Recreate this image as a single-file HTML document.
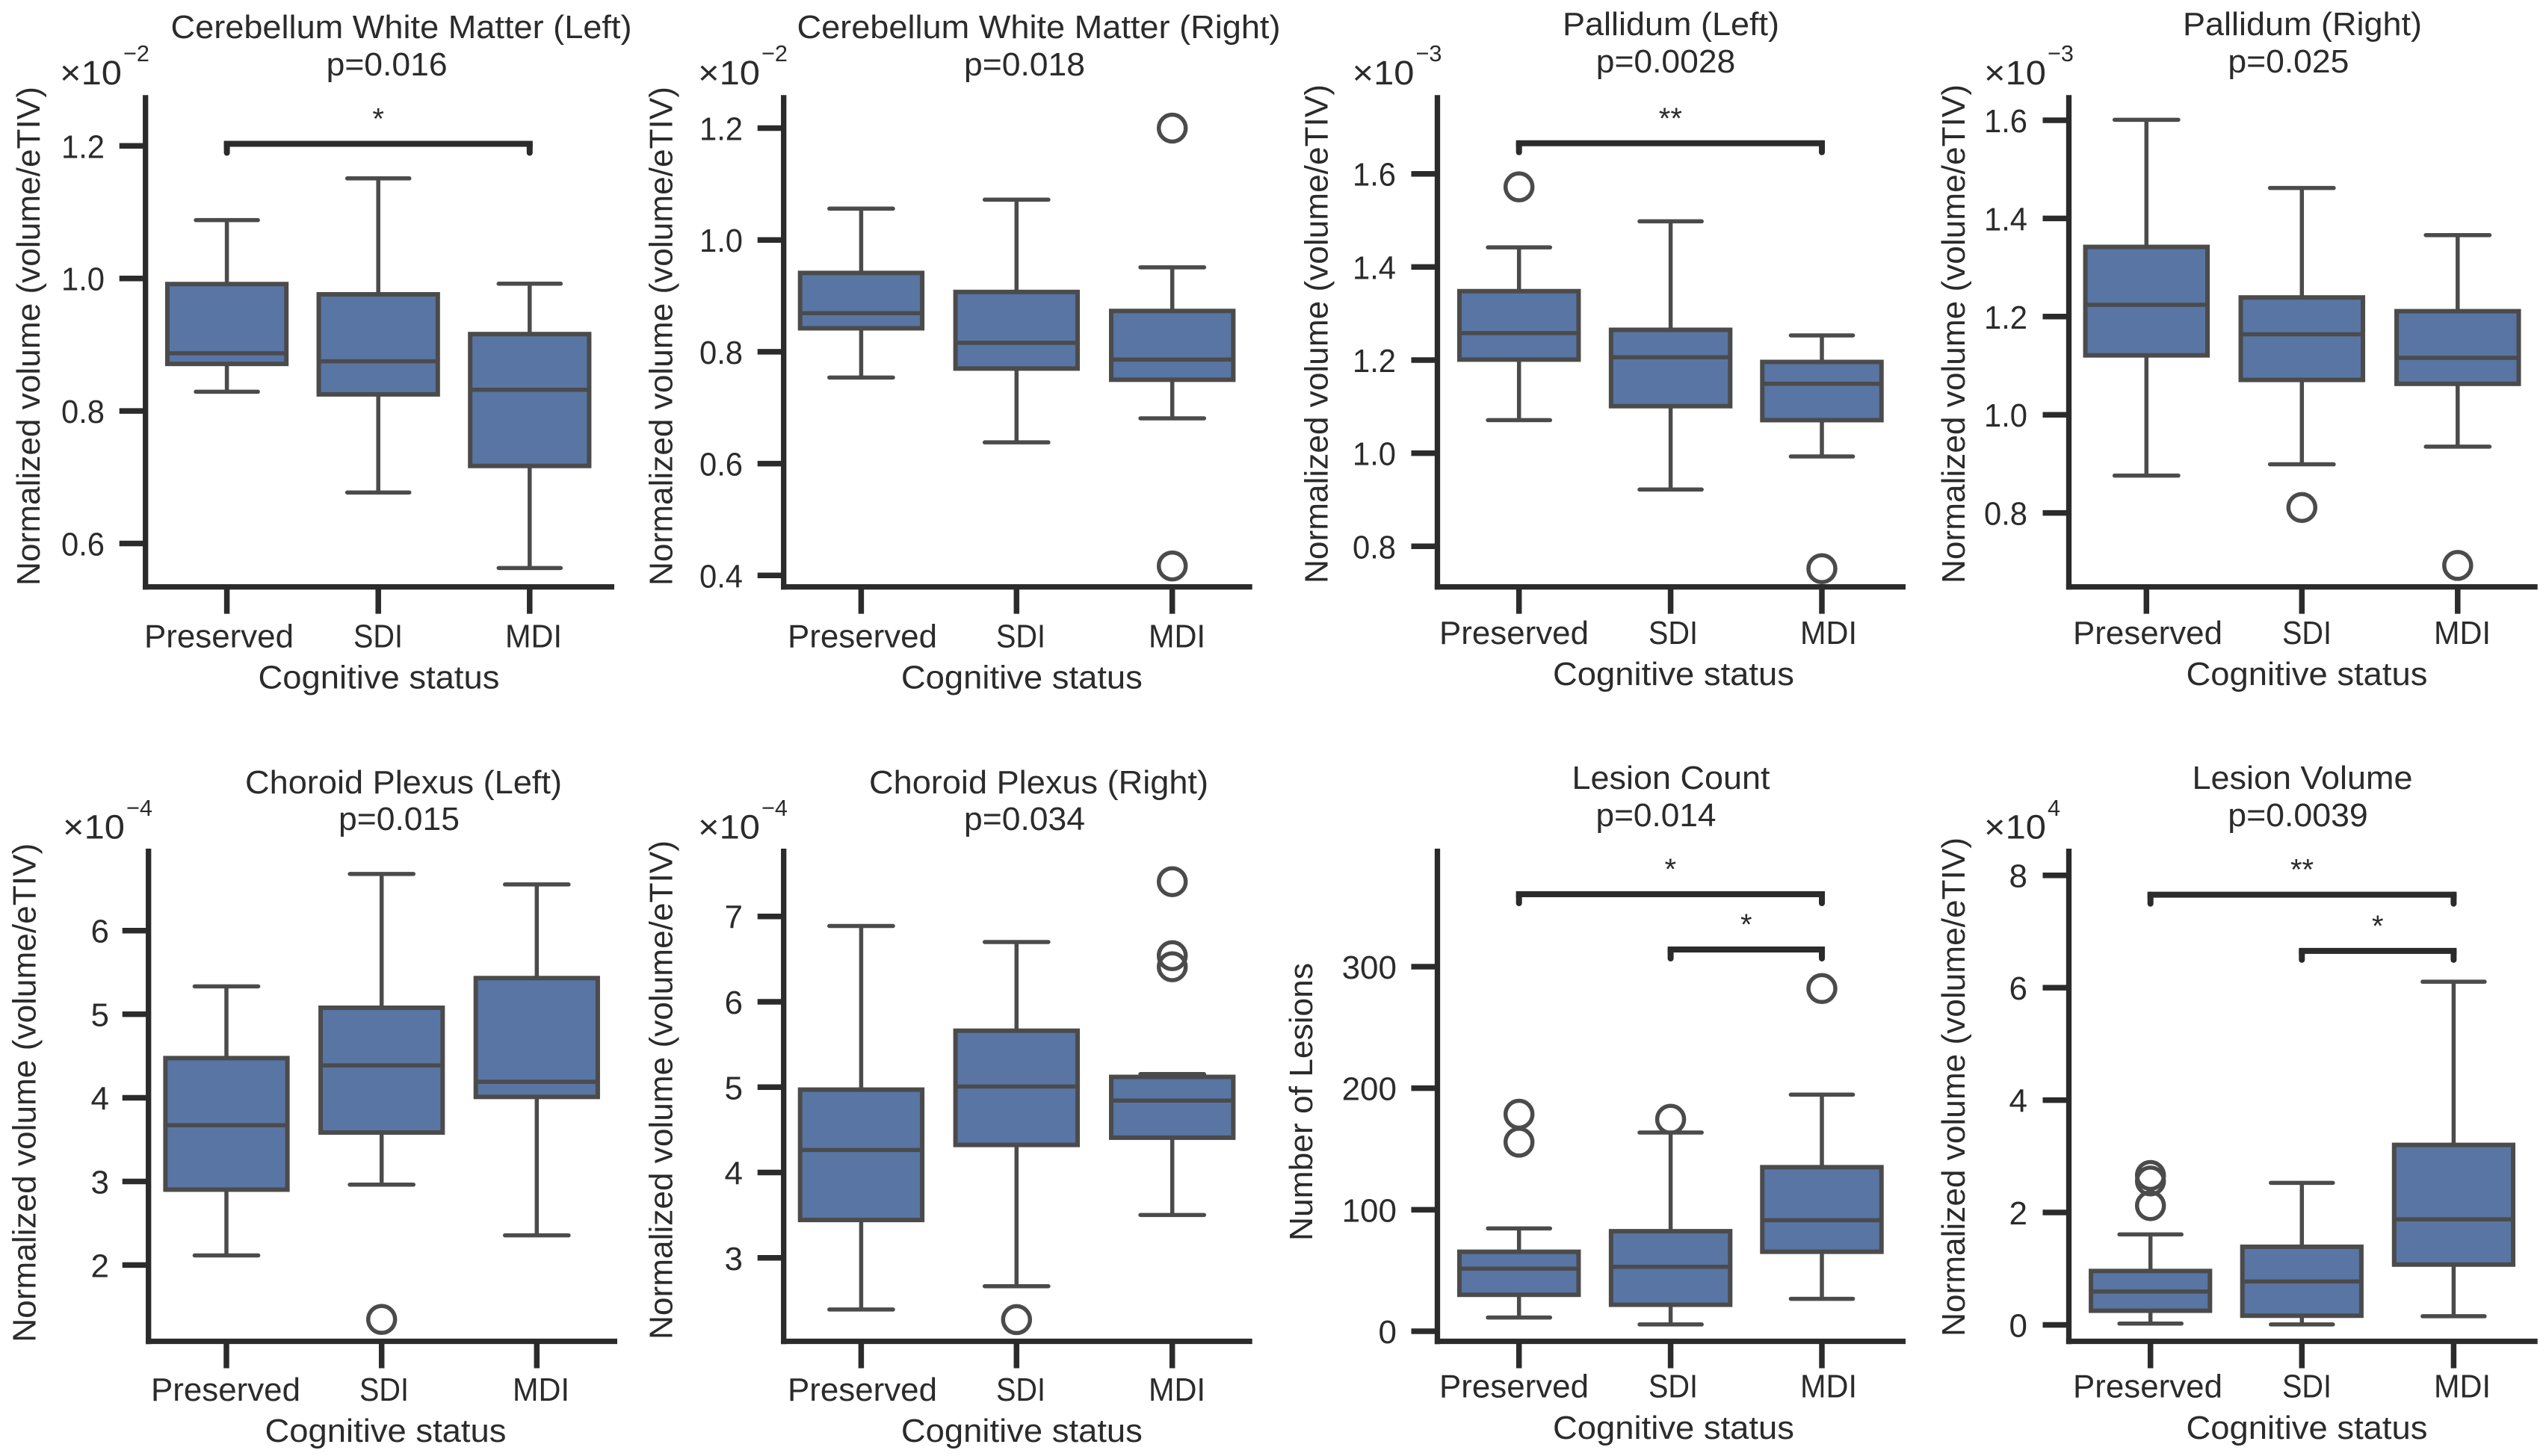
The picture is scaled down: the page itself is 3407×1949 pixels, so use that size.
<!DOCTYPE html>
<html lang="en">
<head>
<meta charset="utf-8">
<title>Brain volume by cognitive status</title>
<style>
  html, body { margin: 0; padding: 0; background: #ffffff; }
  svg { display: block; }
  text { font-family: "Liberation Sans", sans-serif; fill: #2b2b2b; }
</style>
</head>
<body>
<svg id="figure" width="3407" height="1949" viewBox="0 0 3407 1949" xmlns="http://www.w3.org/2000/svg"></svg>
<script>
const categories = ['Preserved', 'SDI', 'MDI'];
const xAxisTitle = 'Cognitive status';
const normalizedAxisTitle = 'Normalized volume (volume/eTIV)';
const lesionAxisTitle = 'Number of Lesions';

// Cerebellum White Matter (Left)
const cwmLeftTicks = [1.2, 1.0, 0.8, 0.6];
const cwmLeftTickLabels = ['1.2', '1.0', '0.8', '0.6'];
const cwmLeftHigh = [1.088, 1.151, 0.992];
const cwmLeftQ3 = [0.9915, 0.976, 0.916];
const cwmLeftMedian = [0.887, 0.875, 0.832];
const cwmLeftQ1 = [0.871, 0.825, 0.717];
const cwmLeftLow = [0.829, 0.677, 0.563];
const cwmLeftOutliers = [[], [], []];
const cwmLeftBrackets = [{ from: 0, to: 2, value: 1.202, stars: '*' }];

// Cerebellum White Matter (Right)
const cwmRightTicks = [1.2, 1.0, 0.8, 0.6, 0.4];
const cwmRightTickLabels = ['1.2', '1.0', '0.8', '0.6', '0.4'];
const cwmRightHigh = [1.056, 1.072, 0.951];
const cwmRightQ3 = [0.941, 0.907, 0.873];
const cwmRightMedian = [0.869, 0.816, 0.786];
const cwmRightQ1 = [0.842, 0.770, 0.750];
const cwmRightLow = [0.754, 0.638, 0.681];
const cwmRightOutliers = [[], [], [1.2, 0.417]];
const cwmRightBrackets = [];

// Pallidum (Left)
const pallidumLeftTicks = [1.6, 1.4, 1.2, 1.0, 0.8];
const pallidumLeftTickLabels = ['1.6', '1.4', '1.2', '1.0', '0.8'];
const pallidumLeftHigh = [1.442, 1.498, 1.253];
const pallidumLeftQ3 = [1.348, 1.265, 1.196];
const pallidumLeftMedian = [1.258, 1.206, 1.149];
const pallidumLeftQ1 = [1.201, 1.101, 1.071];
const pallidumLeftLow = [1.071, 0.922, 0.993];
const pallidumLeftOutliers = [[1.572], [], [0.752]];
const pallidumLeftBrackets = [{ from: 0, to: 2, value: 1.664, stars: '**' }];

// Pallidum (Right)
const pallidumRightTicks = [1.6, 1.4, 1.2, 1.0, 0.8];
const pallidumRightTickLabels = ['1.6', '1.4', '1.2', '1.0', '0.8'];
const pallidumRightHigh = [1.601, 1.462, 1.366];
const pallidumRightQ3 = [1.342, 1.239, 1.211];
const pallidumRightMedian = [1.224, 1.164, 1.116];
const pallidumRightQ1 = [1.121, 1.071, 1.063];
const pallidumRightLow = [0.876, 0.899, 0.935];
const pallidumRightOutliers = [[], [0.811], [0.693]];
const pallidumRightBrackets = [];

// Choroid Plexus (Left)
const choroidLeftTicks = [6, 5, 4, 3, 2];
const choroidLeftTickLabels = ['6', '5', '4', '3', '2'];
const choroidLeftHigh = [5.333, 6.678, 6.552];
const choroidLeftQ3 = [4.475, 5.077, 5.432];
const choroidLeftMedian = [3.672, 4.388, 4.191];
const choroidLeftQ1 = [2.902, 3.585, 4.011];
const choroidLeftLow = [2.115, 2.962, 2.355];
const choroidLeftOutliers = [[], [1.35], []];
const choroidLeftBrackets = [];

// Choroid Plexus (Right)
const choroidRightTicks = [7, 6, 5, 4, 3];
const choroidRightTickLabels = ['7', '6', '5', '4', '3'];
const choroidRightHigh = [6.888, 6.70, 5.153];
const choroidRightQ3 = [4.971, 5.661, 5.12];
const choroidRightMedian = [4.264, 5.008, 4.842];
const choroidRightQ1 = [3.444, 4.323, 4.408];
const choroidRightLow = [2.395, 2.668, 3.503];
const choroidRightOutliers = [[], [2.277], [7.407, 6.54, 6.41]];
const choroidRightBrackets = [];

// Lesion Count
const lesionCountTicks = [300, 200, 100, 0];
const lesionCountTickLabels = ['300', '200', '100', '0'];
const lesionCountHigh = [84.6, 163.5, 194.7];
const lesionCountQ3 = [65.4, 82.3, 135];
const lesionCountMedian = [51.5, 53, 91.4];
const lesionCountQ1 = [30, 21.8, 65.4];
const lesionCountLow = [11.3, 5.6, 26.7];
const lesionCountOutliers = [[178.6, 155.6], [174.4], [282]];
const lesionCountBrackets = [
  { from: 0, to: 2, value: 359, stars: '*' },
  { from: 1, to: 2, value: 313.5, stars: '*' }
];

// Lesion Volume
const lesionVolumeTicks = [8, 6, 4, 2, 0];
const lesionVolumeTickLabels = ['8', '6', '4', '2', '0'];
const lesionVolumeHigh = [1.61, 2.528, 6.106];
const lesionVolumeQ3 = [0.959, 1.39, 3.203];
const lesionVolumeMedian = [0.593, 0.772, 1.878];
const lesionVolumeQ1 = [0.252, 0.163, 1.073];
const lesionVolumeLow = [0.024, 0.008, 0.154];
const lesionVolumeOutliers = [[2.659, 2.561, 2.122], [], []];
const lesionVolumeBrackets = [
  { from: 0, to: 2, value: 7.642, stars: '**' },
  { from: 1, to: 2, value: 6.642, stars: '*' }
];

// Page geometry for each panel (axes frame, label placement); data values live above.
const rowOne = { top: 127.3, bottom: 785.6, supBase: 82, expBase: 113 };
const rowTwo = { top: 1136, bottom: 1795.5, supBase: 1092, expBase: 1122.5 };

const panels = [
  { key: 'cerebellum-left', title: 'Cerebellum White Matter (Left)', pText: 'p=0.016', yTitle: normalizedAxisTitle, exponent: '\u22122',
    ticks: cwmLeftTicks, tickLabels: cwmLeftTickLabels, high: cwmLeftHigh, q3: cwmLeftQ3, median: cwmLeftMedian, q1: cwmLeftQ1, low: cwmLeftLow, outliers: cwmLeftOutliers, brackets: cwmLeftBrackets,
    row: rowOne, left: 194.7, right: 822, cats: [303.6, 506.2, 708.8], calTop: 195.3, calBottom: 727.5,
    titleX: 537, titleW: 617, titleY: 51, pX: 517.6, pW: 162, pY: 101, yTitleX: 38, yTitleMid: 450, yTitleLen: 668,
    tickRight: 140, expLeft: 80, labelX: [293, 506, 714], labelY: 866.5, xTitleX: 507, xTitleY: 921.6 },
  { key: 'cerebellum-right', title: 'Cerebellum White Matter (Right)', pText: 'p=0.018', yTitle: normalizedAxisTitle, exponent: '\u22122',
    ticks: cwmRightTicks, tickLabels: cwmRightTickLabels, high: cwmRightHigh, q3: cwmRightQ3, median: cwmRightMedian, q1: cwmRightQ1, low: cwmRightLow, outliers: cwmRightOutliers, brackets: cwmRightBrackets,
    row: rowOne, left: 1048.7, right: 1675.7, cats: [1152.4, 1360.3, 1568.7], calTop: 171.5, calBottom: 770.3,
    titleX: 1390, titleW: 647, titleY: 51, pX: 1371, pW: 162, pY: 101, yTitleX: 884.7, yTitleMid: 450, yTitleLen: 668,
    tickRight: 994, expLeft: 934, labelX: [1154, 1366, 1575], labelY: 866.5, xTitleX: 1367.4, xTitleY: 921.6 },
  { key: 'pallidum-left', title: 'Pallidum (Left)', pText: 'p=0.0028', yTitle: normalizedAxisTitle, exponent: '\u22123',
    ticks: pallidumLeftTicks, tickLabels: pallidumLeftTickLabels, high: pallidumLeftHigh, q3: pallidumLeftQ3, median: pallidumLeftMedian, q1: pallidumLeftQ1, low: pallidumLeftLow, outliers: pallidumLeftOutliers, brackets: pallidumLeftBrackets,
    row: rowOne, left: 1923.5, right: 2550, cats: [2032.7, 2235.6, 2438], calTop: 232.7, calBottom: 731.3,
    titleX: 2236, titleW: 290, titleY: 47, pX: 2229, pW: 186.5, pY: 96.8, yTitleX: 1761.7, yTitleMid: 447, yTitleLen: 668,
    tickRight: 1868, expLeft: 1809.5, labelX: [2026, 2239, 2447], labelY: 862, xTitleX: 2239.5, xTitleY: 917 },
  { key: 'pallidum-right', title: 'Pallidum (Right)', pText: 'p=0.025', yTitle: normalizedAxisTitle, exponent: '\u22123',
    ticks: pallidumRightTicks, tickLabels: pallidumRightTickLabels, high: pallidumRightHigh, q3: pallidumRightQ3, median: pallidumRightMedian, q1: pallidumRightQ1, low: pallidumRightLow, outliers: pallidumRightOutliers, brackets: pallidumRightBrackets,
    row: rowOne, left: 2768.5, right: 3395.7, cats: [2872.3, 3080.3, 3288.8], calTop: 161, calBottom: 686.6,
    titleX: 3081, titleW: 320, titleY: 47, pX: 3062.4, pW: 162, pY: 96.8, yTitleX: 2614, yTitleMid: 447, yTitleLen: 668,
    tickRight: 2713, expLeft: 2655, labelX: [2874, 3087, 3295], labelY: 862, xTitleX: 3087, xTitleY: 917 },
  { key: 'choroid-left', title: 'Choroid Plexus (Left)', pText: 'p=0.015', yTitle: normalizedAxisTitle, exponent: '\u22124',
    ticks: choroidLeftTicks, tickLabels: choroidLeftTickLabels, high: choroidLeftHigh, q3: choroidLeftQ3, median: choroidLeftMedian, q1: choroidLeftQ1, low: choroidLeftLow, outliers: choroidLeftOutliers, brackets: choroidLeftBrackets,
    row: rowTwo, left: 198.7, right: 826, cats: [303, 510.7, 718.3], calTop: 1245.7, calBottom: 1693.4,
    titleX: 540, titleW: 424, titleY: 1062, pX: 534, pW: 162, pY: 1111, yTitleX: 32.5, yTitleMid: 1462.8, yTitleLen: 668,
    tickRight: 146, expLeft: 84, labelX: [302, 514, 724], labelY: 1875, xTitleX: 516, xTitleY: 1930 },
  { key: 'choroid-right', title: 'Choroid Plexus (Right)', pText: 'p=0.034', yTitle: normalizedAxisTitle, exponent: '\u22124',
    ticks: choroidRightTicks, tickLabels: choroidRightTickLabels, high: choroidRightHigh, q3: choroidRightQ3, median: choroidRightMedian, q1: choroidRightQ1, low: choroidRightLow, outliers: choroidRightOutliers, brackets: choroidRightBrackets,
    row: rowTwo, left: 1048.7, right: 1675.7, cats: [1152.4, 1360.3, 1568.7], calTop: 1226.7, calBottom: 1683.8,
    titleX: 1390, titleW: 454, titleY: 1062, pX: 1371, pW: 162, pY: 1111, yTitleX: 884.7, yTitleMid: 1459, yTitleLen: 668,
    tickRight: 994, expLeft: 934, labelX: [1154, 1366, 1575], labelY: 1875, xTitleX: 1367.4, xTitleY: 1930 },
  { key: 'lesion-count', title: 'Lesion Count', pText: 'p=0.014', yTitle: lesionAxisTitle, exponent: '',
    ticks: lesionCountTicks, tickLabels: lesionCountTickLabels, high: lesionCountHigh, q3: lesionCountQ3, median: lesionCountMedian, q1: lesionCountQ1, low: lesionCountLow, outliers: lesionCountOutliers, brackets: lesionCountBrackets,
    row: rowTwo, left: 1923.5, right: 2550, cats: [2032.7, 2235.6, 2438], calTop: 1294, calBottom: 1782,
    titleX: 2236, titleW: 265, titleY: 1056, pX: 2216, pW: 161, pY: 1106, yTitleX: 1740.8, yTitleMid: 1475, yTitleLen: 372,
    tickRight: 1869, expLeft: 0, labelX: [2026, 2239, 2447], labelY: 1870.7, xTitleX: 2239.5, xTitleY: 1926 },
  { key: 'lesion-volume', title: 'Lesion Volume', pText: 'p=0.0039', yTitle: normalizedAxisTitle, exponent: '4',
    ticks: lesionVolumeTicks, tickLabels: lesionVolumeTickLabels, high: lesionVolumeHigh, q3: lesionVolumeQ3, median: lesionVolumeMedian, q1: lesionVolumeQ1, low: lesionVolumeLow, outliers: lesionVolumeOutliers, brackets: lesionVolumeBrackets,
    row: rowTwo, left: 2768.5, right: 3395.7, cats: [2877.7, 3080.3, 3283.4], calTop: 1171.7, calBottom: 1773.5,
    titleX: 3081, titleW: 295, titleY: 1056, pX: 3075, pW: 187.5, pY: 1106, yTitleX: 2614, yTitleMid: 1455, yTitleLen: 668,
    tickRight: 2713, expLeft: 2655, labelX: [2874, 3087, 3295], labelY: 1870.7, xTitleX: 3087, xTitleY: 1926 }
];

const SVG_NS = 'http://www.w3.org/2000/svg';
const AXIS_COLOR = '#2b2b2b';
const LINE_COLOR = '#4b4b4b';
const BOX_FILL = '#5875a4';
const xLabelWidths = { Preserved: 200, SDI: 66, MDI: 76 };

function shape(parent, tag, props) {
  const node = document.createElementNS(SVG_NS, tag);
  for (const k in props) node.setAttribute(k, props[k]);
  parent.appendChild(node);
  return node;
}
function line(parent, x1, y1, x2, y2, color, width, cap) {
  return shape(parent, 'line', { x1, y1, x2, y2, stroke: color, 'stroke-width': width, 'stroke-linecap': cap || 'butt' });
}
function label(parent, str, x, y, size, anchor, fitWidth) {
  const props = { x, y, 'font-size': size, 'text-anchor': anchor };
  if (fitWidth) { props.textLength = fitWidth; props.lengthAdjust = 'spacingAndGlyphs'; }
  const node = shape(parent, 'text', props);
  node.textContent = str;
  return node;
}

const figure = document.getElementById('figure');

panels.forEach(function (p) {
  const g = shape(figure, 'g', {});
  
  

  const tickFirst = p.ticks[0];
  const tickLast = p.ticks[p.ticks.length - 1];
  const yScale = function (v) {
    return p.calTop + (v - tickFirst) * (p.calBottom - p.calTop) / (tickLast - tickFirst);
  };
  const xScale = function (i) { return p.cats[i]; };
  const spacing = p.cats[1] - p.cats[0];
  const boxHalf = spacing * 0.393;
  const capHalf = spacing * 0.205;
  const bottom = p.row.bottom;

  // Titles
  let el = label(g, p.title, p.titleX, p.titleY, 43.5, 'middle', p.titleW);
  
  
  el = label(g, p.pText, p.pX, p.pY, 43.5, 'middle', p.pW);
  
  

  // Y axis title
  el = shape(g, 'text', {
    x: 0, y: 0, 'font-size': 43.5, 'text-anchor': 'middle',
    textLength: p.yTitleLen, lengthAdjust: 'spacingAndGlyphs',
    transform: 'translate(' + (p.yTitleX + 15) + ',' + p.yTitleMid + ') rotate(-90)'
  });
  el.textContent = p.yTitle;
  
  

  // Offset exponent
  if (p.exponent) {
    el = label(g, '\u00d710', p.expLeft, p.row.expBase, 45, 'start', 83);
    
    
    el = label(g, p.exponent, p.expLeft + 85, p.row.supBase, 31, 'start', p.exponent.length > 1 ? 35 : 17);
    
    
  }

  // Y ticks
  p.ticks.forEach(function (t, i) {
    const y = yScale(t);
    let n = line(g, p.left - 35, y, p.left, y, AXIS_COLOR, 7.5);
    
    
    n = label(g, p.tickLabels[i], p.tickRight, y + 16, 44, 'end', p.tickLabels[i].indexOf('.') >= 0 ? 58 : 0);
    
    
  });

  // Boxes
  categories.forEach(function (cat, i) {
    const x = xScale(i);
    const box = shape(g, 'g', {});
    
    

    let n = line(box, x, yScale(p.q3[i]), x, yScale(p.high[i]), LINE_COLOR, 5.5);
    
    
    n = line(box, x, yScale(p.q1[i]), x, yScale(p.low[i]), LINE_COLOR, 5.5);
    
    
    n = line(box, x - capHalf, yScale(p.high[i]), x + capHalf, yScale(p.high[i]), LINE_COLOR, 5.5, 'round');
    
    
    n = line(box, x - capHalf, yScale(p.low[i]), x + capHalf, yScale(p.low[i]), LINE_COLOR, 5.5, 'round');
    
    

    n = shape(box, 'rect', {
      x: x - boxHalf, y: yScale(p.q3[i]), width: boxHalf * 2,
      height: yScale(p.q1[i]) - yScale(p.q3[i]),
      fill: BOX_FILL, stroke: LINE_COLOR, 'stroke-width': 6
    });
    
    
    n = line(box, x - boxHalf, yScale(p.median[i]), x + boxHalf, yScale(p.median[i]), LINE_COLOR, 5.5);
    
    

    p.outliers[i].forEach(function (v) {
      const c = shape(box, 'circle', { cx: x, cy: yScale(v), r: 18, fill: 'none', stroke: LINE_COLOR, 'stroke-width': 5.5 });
      
      
    });

    n = line(g, x, bottom, x, bottom + 36, AXIS_COLOR, 7.5);
    
    
    n = label(g, cat, p.labelX[i], p.labelY, 44, 'middle', xLabelWidths[cat]);
    
    
  });

  // Spines
  el = line(g, p.left, p.row.top, p.left, bottom + 3.7, AXIS_COLOR, 7.3);
  
  
  el = line(g, p.left - 3.6, bottom, p.right, bottom, AXIS_COLOR, 7.3);
  
  

  // X axis title
  el = label(g, xAxisTitle, p.xTitleX, p.xTitleY, 43.5, 'middle', 323);
  
  

  // Significance brackets
  p.brackets.forEach(function (b) {
    const x1 = xScale(b.from);
    const x2 = xScale(b.to);
    const y = yScale(b.value);
    const bar = shape(g, 'path', {
      d: 'M' + x1 + ' ' + (y - 1) + 'H' + x2,
      fill: 'none', stroke: AXIS_COLOR, 'stroke-width': 8, 'stroke-linecap': 'square'
    });
    
    
    const leftDrop = line(g, x1, y - 1, x1, y + 11, AXIS_COLOR, 8, 'round');
    
    
    const rightDrop = line(g, x2, y - 1, x2, y + 11, AXIS_COLOR, 8, 'round');
    
    
    const star = label(g, b.stars, (x1 + x2) / 2, y - 21, 40, 'middle');
    
    
  });
});
</script>
</body>
</html>
